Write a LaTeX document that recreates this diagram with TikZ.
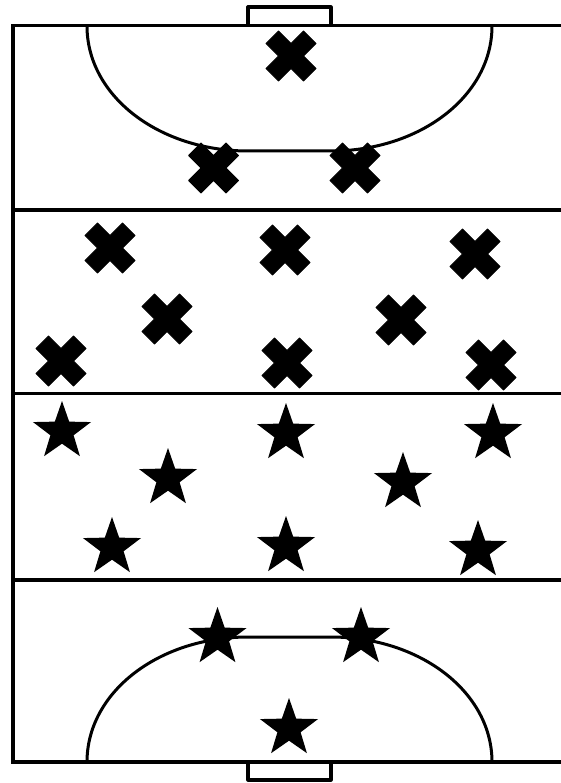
\documentclass[tikz,border=0pt]{standalone}
\tikzset{
  x=1pt,y=-1pt,
  fieldline/.style={draw=black,line width=3.2pt,line join=miter},
  goalline/.style={draw=black,line width=3.2pt,line join=round},
  arcline/.style={draw=black,line width=3pt},
  defmark/.pic={\filldraw[black,line width=.9pt,line join=round] (0,-12.5)--(12.5,-25)--(25,-12.5)--(12.5,0)--(25,12.5)--(12.5,25)--(0,12.5)--(-12.5,25)--(-25,12.5)--(-12.5,0)--(-25,-12.5)--(-12.5,-25)--cycle;},
  starmark/.pic={\fill[black] (0,-30.5)
     \foreach \k in {1,...,9}{ -- ({(mod(\k,2)==0 ? 30.5 : 12.2)*sin(36*\k)},{-(mod(\k,2)==0 ? 30.5 : 12.2)*cos(36*\k)}) } -- cycle;}
}
\begin{document}
\begin{tikzpicture}
\useasboundingbox (0,0) rectangle (561,783);
\fill[white] (0,0) rectangle (561,783);
\clip (0,0) rectangle (561,783);
% field
\draw[fieldline] (561,25.6) -- (13,25.6) -- (13,762) -- (561,762);
\foreach \y in {210,393.5,580}{\draw[fieldline] (13,\y) -- (561,\y);}
% goals
\draw[goalline] (248,25.6) -- (248,7) -- (331,7) -- (331,25.6);
\draw[goalline] (248,762) -- (248,780) -- (331,780) -- (331,762);
% circles
\draw[arcline] (87,26) .. controls (87,96) and (159,151) .. (248,151) -- (331,151) .. controls (420,151) and (492,96) .. (492,26);
\draw[arcline] (87,762) .. controls (87,692) and (159,637) .. (248,637) -- (331,637) .. controls (420,637) and (492,692) .. (492,762);
% crosses
\foreach \p/\q in {291/56,213.6/168,355/168,110/248,285/250,475/254,167/319,401/320,61/361,287/363,491/365}
  {\pic at (\p,\q) {defmark};}
% stars
\foreach \p/\q in {217.5/637.5,361/637.5,289/728.5,62/431.5,286/433.5,493/433.5,168/478.5,403/482.5,112/547.5,286/546.5,478/550.5}
  {\pic at (\p,\q) {starmark};}
\end{tikzpicture}
\end{document}
